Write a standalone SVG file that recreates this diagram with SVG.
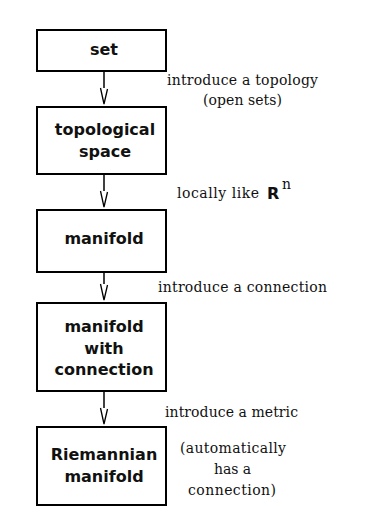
<svg xmlns="http://www.w3.org/2000/svg" width="366" height="521" viewBox="0 0 366 521">
<style>
.box{fill:#fff;stroke:#000;stroke-width:2}
.lbl{font-family:"DejaVu Sans",sans-serif;font-weight:bold;font-size:16px;text-anchor:middle;fill:#111}
.note{font-family:"DejaVu Serif",serif;font-size:14px;fill:#111}
.con{stroke:#000;stroke-width:1.5;fill:none}
.head{stroke:#000;stroke-width:1.3;fill:none}
</style>
<defs>
<marker id="v" markerWidth="10" markerHeight="18" refX="4" refY="15" orient="auto" markerUnits="userSpaceOnUse">
<path d="M0.5,0 L4,15 L7.5,1" class="head"/>
</marker>
</defs>
<rect width="366" height="521" fill="#fff"/>
<g id="connectors">
<path class="con" d="M104,71 V88" /><path class="head" d="M100.5,88 L104,104 L107.5,89"/>
<path class="con" d="M104,174 V191" /><path class="head" d="M100.5,191 L104,207 L107.5,192"/>
<path class="con" d="M104,272 V284" /><path class="head" d="M100.5,284 L104,300 L107.5,285"/>
<path class="con" d="M104,391 V408" /><path class="head" d="M100.5,408 L104,424 L107.5,409"/>
</g>
<g id="set">
<rect class="box" x="37" y="30" width="129" height="41"/>
<text class="lbl" x="104" y="55">set</text>
</g>
<g id="topological-space">
<rect class="box" x="37" y="107" width="129" height="67"/>
<text class="lbl" x="105" y="135">topological</text>
<text class="lbl" x="105" y="157">space</text>
</g>
<g id="manifold">
<rect class="box" x="37" y="210" width="129" height="62"/>
<text class="lbl" x="104" y="244">manifold</text>
</g>
<g id="manifold-with-connection">
<rect class="box" x="37" y="303" width="129" height="88"/>
<text class="lbl" x="104" y="332">manifold</text>
<text class="lbl" x="104" y="354">with</text>
<text class="lbl" x="104" y="375">connection</text>
</g>
<g id="riemannian-manifold">
<rect class="box" x="37" y="427" width="129" height="78"/>
<text class="lbl" x="104" y="460">Riemannian</text>
<text class="lbl" x="104" y="482">manifold</text>
</g>
<g id="notes">
<text class="note" x="167" y="85" textLength="151">introduce a topology</text>
<text class="note" x="203" y="105" textLength="79">(open sets)</text>
<text class="note" x="177" y="198" textLength="82">locally like</text>
<text x="267" y="199" font-family="DejaVu Sans,sans-serif" font-weight="bold" font-size="16" fill="#111">R</text>
<text class="note" x="282" y="189" font-size="12">n</text>
<text class="note" x="158" y="292" textLength="169">introduce a connection</text>
<text class="note" x="165" y="417" textLength="133">introduce a metric</text>
<text class="note" x="180" y="453" textLength="106">(automatically</text>
<text class="note" x="214" y="474" textLength="37">has a</text>
<text class="note" x="188" y="495" textLength="88">connection)</text>
</g>
</svg>
